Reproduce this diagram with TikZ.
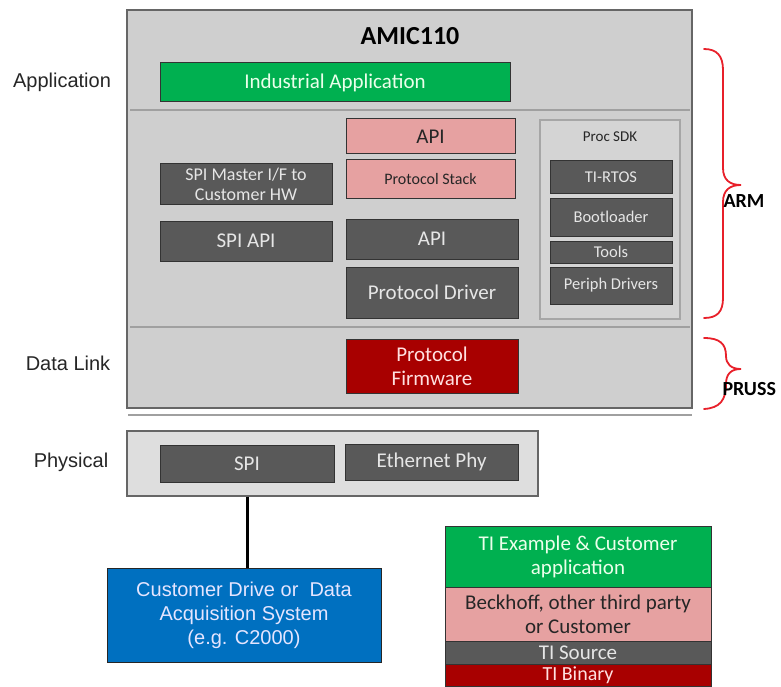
\documentclass[tikz,border=0pt]{standalone}
\usepackage{fontspec}
\setmainfont{Carlito}
\newfontfamily\arialf{Liberation Sans}
\definecolor{bggray}{HTML}{CFCFCF}
\definecolor{physgray}{HTML}{DEDEDE}
\definecolor{sdkgray}{HTML}{D4D4D4}
\definecolor{darkbox}{HTML}{595959}
\definecolor{pinkbox}{HTML}{E6A1A1}
\definecolor{greenbox}{HTML}{00B050}
\definecolor{redbox}{HTML}{A80000}
\definecolor{bluebox}{HTML}{0070C0}
\definecolor{edge}{HTML}{333333}
\definecolor{lighttext}{HTML}{E6E6E6}
\definecolor{sepgray}{HTML}{A0A0A0}
\definecolor{bracered}{HTML}{E8202A}
\begin{document}
\begin{tikzpicture}[x=1pt,y=-1pt,
  blk/.style={draw=edge, line width=1pt, inner sep=0pt, align=center},
  dk/.style={blk, fill=darkbox, text=lighttext},
  pk/.style={blk, fill=pinkbox, text=black!85},
  gr/.style={blk, fill=greenbox, text=white!92!green},
  rd/.style={blk, fill=redbox, text=white!88!red},
  sep/.style={draw=sepgray, line width=2pt},
  lbl/.style={font=\arialf\fontsize{20}{22}\selectfont, text=black!85},
  brc/.style={draw=bracered, line width=1.8pt, line cap=round},
  big/.style={font=\fontsize{21}{24}\selectfont},
  mid/.style={font=\fontsize{16.5}{18}\selectfont},
  sml/.style={font=\fontsize{16}{18}\selectfont}]
\useasboundingbox (0,0) rectangle (781,687);
\fill[white] (0,0) rectangle (781,687);
% main AMIC110 box
\node[draw=black!60, line width=1.2pt, fill=bggray, minimum width=565pt, minimum height=398pt, inner sep=0pt] (main) at (409.5,209) {};
\node[font=\bfseries\fontsize{26}{28}\selectfont] (title) at (410,36) {AMIC110};
\node[gr, big, minimum width=350pt, minimum height=39pt] (indapp) at (335,82.5) {Industrial Application};
\draw[sep] (130,110) -- (690,110);
\draw[sep] (130,327) -- (690,327);
% middle stack
\node[pk, big, minimum width=169pt, minimum height=35pt] (papi) at (430.5,136.5) {API};
\node[pk, sml, minimum width=169pt, minimum height=38pt] (pstack) at (430.5,179) {Protocol Stack};
\node[dk, font=\fontsize{18}{20}\selectfont, minimum width=172pt, minimum height=40pt] (spimaster) at (246,184) {SPI Master I/F to\\Customer HW};
\node[dk, big, minimum width=172pt, minimum height=40pt] (spiapi) at (246,241) {SPI API};
\node[dk, big, minimum width=172pt, minimum height=40pt] (api2) at (432,239) {API};
\node[dk, big, minimum width=172pt, minimum height=51pt] (pdriver) at (432,292.5) {Protocol Driver};
% Proc SDK
\node[draw=black!35, line width=1.2pt, fill=sdkgray, minimum width=140pt, minimum height=199pt, inner sep=0pt] (sdk) at (610,219.5) {};
\node[font=\fontsize{15}{17}\selectfont, text=black!85] (sdklbl) at (610,137) {Proc SDK};
\node[dk, mid, minimum width=122pt, minimum height=32pt] (rtos) at (611,177) {TI-RTOS};
\node[dk, mid, minimum width=122pt, minimum height=38pt] (boot) at (611,217) {Bootloader};
\node[dk, mid, minimum width=122pt, minimum height=22pt] (tools) at (611,252) {Tools};
\node[dk, mid, minimum width=122pt, minimum height=37pt] (periph) at (611,285.5) {Periph Drivers};
% data link
\node[rd, big, minimum width=172pt, minimum height=54pt] (pfw) at (432,366) {Protocol\\Firmware};
\draw[sep] (128,415) -- (692,415);
% physical
\node[draw=black!60, line width=1.2pt, fill=physgray, minimum width=411pt, minimum height=65pt, inner sep=0pt] (phys) at (332.5,463.5) {};
\node[dk, big, minimum width=174pt, minimum height=37pt] (spi) at (247,463.5) {SPI};
\node[dk, big, minimum width=173pt, minimum height=36pt] (eth) at (431.5,462) {Ethernet Phy};
% customer system
\node[blk, fill=bluebox, text=white!90!blue, font=\arialf\fontsize{20}{24}\selectfont, minimum width=274pt, minimum height=94pt, draw=black!85] (cust) at (244,615) {Customer Drive or\ \ Data\\Acquisition System\\(e.g. C2000)};
\draw[line width=3pt, black] (spi.south |- phys.south) -- (spi.south |- cust.north);
% legend
\node[gr, big, minimum width=266pt, minimum height=61pt] (leg1) at (578,556.5) {TI Example \& Customer\\application};
\node[pk, big, minimum width=266pt, minimum height=54pt] (leg2) at (578,614) {Beckhoff, other third party\\or Customer};
\node[dk, big, minimum width=266pt, minimum height=23pt] (leg3) at (578,652.5) {TI Source};
\node[rd, font=\fontsize{20}{22}\selectfont, minimum width=266pt, minimum height=22pt] (leg4) at (578,675) {TI Binary};
% layer labels
\node[lbl] (lapp) at (62,82) {Application};
\node[lbl] (ldl) at (68,363) {Data Link};
\node[lbl] (lphy) at (71,462) {Physical};
% braces
\draw[brc] (704,49) .. controls (717,49) and (723,56) .. (723,70) -- (723,168) .. controls (723,180) and (730,185) .. (741,185) .. controls (730,185) and (723,190) .. (723,202) -- (723,298) .. controls (723,312) and (717,318) .. (704,318);
\draw[brc] (704,338) .. controls (720,338) and (726,344) .. (726,356) .. controls (726,364) and (731,369) .. (741,369) .. controls (731,369) and (726,374) .. (726,384) .. controls (726,400) and (720,408) .. (704,409);
\node[font=\bfseries\fontsize{20}{22}\selectfont, anchor=west] (arm) at (720,201) {ARM};
\node[font=\bfseries\fontsize{20}{22}\selectfont, anchor=west] (pruss) at (719,389) {PRUSS};
\end{tikzpicture}
\end{document}
